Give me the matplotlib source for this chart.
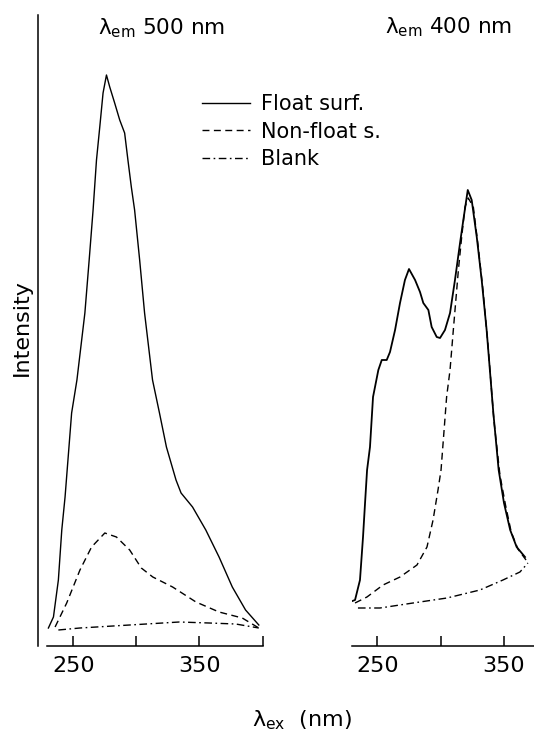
import matplotlib
matplotlib.use("Agg")
import matplotlib.pyplot as plt

# excitation spectra, emission at 500 nm (left panel)
float_500_nm = [230.3, 234.3, 238.2, 240.9, 243.5, 248.7, 252.9, 259.2, 262.6, 265.7,
                268.4, 271.0, 273.6, 276.3, 278.9, 282.8, 286.8, 290.7, 293.3, 296.0,
                298.6, 302.6, 306.5, 312.8, 318.3, 323.8, 331.4, 335.4, 344.5, 355.0,
                365.5, 376.0, 386.5, 397.0]
float_500_int = [18, 29, 66, 116, 149, 233, 266, 333, 386, 436,
                 486, 519, 553, 571, 559, 543, 526, 513, 486, 459,
                 436, 386, 333, 266, 233, 199, 166, 153, 139, 116,
                 89, 59, 36, 21]

nonfloat_500_nm = [235.6, 244.8, 255.3, 264.5, 275.0, 284.2, 294.7, 303.9, 313.0, 328.7,
                   347.2, 365.5, 383.9, 397.0]
nonfloat_500_int = [19, 43, 76, 99, 113, 109, 96, 78, 69, 59, 44, 34, 28, 18]

blank_500_nm = [238.2, 255.3, 281.5, 307.8, 334.0, 357.6, 378.7, 397.0]
blank_500_int = [16, 18, 20, 22, 24, 23, 22, 18]

# excitation spectra, emission at 400 nm (right panel)
float_400_nm = [226.1, 232.4, 236.3, 238.7, 240.3, 241.9, 244.2, 246.6, 250.8, 253.5,
                257.4, 260.0, 264.0, 267.9, 271.8, 275.0, 279.8, 283.7, 286.3, 290.3,
                292.9, 296.9, 299.5, 303.4, 307.4, 311.3, 315.3, 317.9, 321.4, 324.5,
                328.5, 332.4, 336.3, 341.6, 345.8, 350.0, 354.9, 360.0, 366.6]
float_400_int = [43, 46, 66, 109, 143, 176, 199, 249, 276, 286,
                 286, 294, 316, 343, 366, 377, 366, 354, 343, 336,
                 319, 309, 308, 316, 333, 366, 403, 426, 456, 446,
                 409, 366, 316, 233, 176, 143, 116, 99, 89]

nonfloat_400_nm = [232.4, 241.8, 254.5, 267.9, 281.3, 289.2, 294.0, 297.9, 300.3, 304.7,
                   307.4, 310.0, 314.0, 316.6, 319.2, 321.8, 325.8, 329.5, 333.4, 337.4,
                   342.0, 346.8, 351.2, 355.7, 361.0, 367.4]
nonfloat_400_int = [43, 49, 61, 69, 81, 99, 126, 156, 176, 249,
                    276, 316, 376, 409, 439, 448, 439, 401, 356, 301,
                    226, 171, 141, 114, 97, 86]

blank_400_nm = [234.7, 252.1, 278.2, 305.0, 331.0, 349.2, 362.6, 368.9]
blank_400_int = [38, 38, 43, 48, 56, 66, 74, 83]

labels = ["Float surf.", "Non-float s.", "Blank"]
ticks_500 = [250, 300, 350, 400]
ticklab_500 = ["250", "", "350", ""]
ticks_400 = [250, 300, 350]
ticklab_400 = ["250", "", "350"]

W, H = 534, 735
fig = plt.figure(figsize=(W / 100, H / 100), dpi=100)


def px_axes(x0, x1, y_top, y_bot):
    return fig.add_axes([x0 / W, 1 - y_bot / H, (x1 - x0) / W, (y_bot - y_top) / H])


dashed = (0, (5, 3.2))
dashdot = (0, (5.5, 2.5, 1.2, 2.5))
lw = 1.0

ax1 = px_axes(38.3, 262.6, 15, 646)
l1, = ax1.plot(float_500_nm, float_500_int, color="black", lw=lw, ls="-")
l2, = ax1.plot(nonfloat_500_nm, nonfloat_500_int, color="black", lw=lw, ls=dashed)
l3, = ax1.plot(blank_500_nm, blank_500_int, color="black", lw=lw, ls=dashdot)
ax1.set_xticks(ticks_500)
ax1.set_xticklabels(ticklab_500)
ax1.set_xlim(222.3, 400)
ax1.set_ylim(0, 631)

ax2 = px_axes(352, 534, 15, 646)
ax2.plot(float_400_nm, float_400_int, color="black", lw=1.3, ls="-")
ax2.plot(nonfloat_400_nm, nonfloat_400_int, color="black", lw=lw, ls=dashed)
ax2.plot(blank_400_nm, blank_400_int, color="black", lw=lw, ls=dashdot)
ax2.set_xticks(ticks_400)
ax2.set_xticklabels(ticklab_400)
ax2.set_xlim(230, 373.7)
ax2.set_ylim(0, 631)

for ax in (ax1, ax2):
    ax.spines["top"].set_visible(False)
    ax.spines["right"].set_visible(False)
    ax.spines["bottom"].set_linewidth(1.1)
    ax.set_yticks([])
    ax.tick_params(axis="x", direction="in", length=7, width=1.1, pad=7,
                   labelsize=16)
    ax.patch.set_visible(False)

ax1.spines["left"].set_linewidth(1.1)
ax1.spines["bottom"].set_bounds(229, 400)
ax2.spines["left"].set_visible(False)

fig.text(162 / W, 1 - 28 / H, "λ$_{\\mathregular{em}}$ 500 nm", ha="center", va="center",
         fontsize=15.5)
fig.text(449 / W, 1 - 27 / H, "λ$_{\\mathregular{em}}$ 400 nm", ha="center", va="center",
         fontsize=15.5)
fig.text(302 / W, 1 - 720 / H, "λ$_{\\mathregular{ex}}$  (nm)", ha="center", va="center",
         fontsize=16)
fig.text(22 / W, 1 - 328 / H, "Intensity", ha="center", va="center", rotation=90,
         fontsize=16)

fig.legend([l1, l2, l3], labels, loc="upper left",
           bbox_to_anchor=(201.7 / W, 1 - 94 / H), frameon=False,
           fontsize=15, handlelength=2.3, handletextpad=0.55, labelspacing=0.36,
           borderpad=0, borderaxespad=0)

fig.savefig("out.png", dpi=100)
